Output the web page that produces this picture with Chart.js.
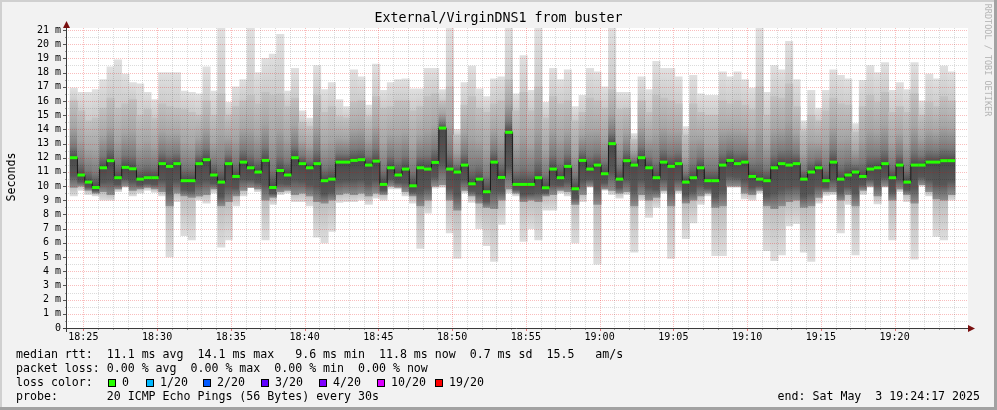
<!DOCTYPE html>
<html>
<head>
<meta charset="utf-8">
<title>External/VirginDNS1 from buster</title>
<script src="https://cdn.jsdelivr.net/npm/chart.js@4.4.1/dist/chart.umd.min.js"></script>
<style>
  html, body { margin: 0; padding: 0; background: #f2f2f2; }
  #wrap { position: relative; width: 997px; height: 410px; overflow: hidden; background: #f2f2f2;
          font-family: 'DejaVu Sans Mono', monospace; color: #000; }
  #wrap canvas { position: absolute; left: 0; top: 0; }
  .t { position: absolute; white-space: pre; font-size: 11.6px; line-height: 14px; }
  .box { position: absolute; width: 8px; height: 8px; box-sizing: border-box; border: 1px solid #000; }
  .edge { position: absolute; }
</style>
</head>
<body>
<div id="wrap">
  <canvas id="smoke" width="997" height="410"></canvas>
  <div class="t" style="left:0;top:10px;width:997px;text-align:center;font-size:13.3px;line-height:16px">External/VirginDNS1 from buster</div>
  <div class="t" style="left:-39px;top:170px;width:100px;text-align:center;transform:rotate(-90deg)">Seconds</div>
  <div class="t" style="left:927px;top:55px;width:122px;text-align:center;font-size:8.5px;line-height:10px;color:#b4b4b4;transform:rotate(90deg);transform-origin:61px 5px">RRDTOOL / TOBI OETIKER</div>
  <div class="t" id="stats" style="left:16px;top:347px"></div>
  <div id="lossRow"></div>
  <div class="t" id="endText" style="right:17px;top:389px"></div>
  <div class="edge" style="left:0;top:0;width:997px;height:2px;background:#d0d0d0"></div>
  <div class="edge" style="left:0;top:0;width:2px;height:410px;background:#d0d0d0"></div>
  <div class="edge" style="right:0;top:0;width:3px;height:410px;background:#a2a2a2"></div>
  <div class="edge" style="left:0;bottom:0;width:997px;height:3px;background:#a2a2a2"></div>
</div>
<script>
// one probe round (20 pings) every 30 s, times in minutes after 18:00
const firstSample = 24 + 21 / 60;
const sampleStep = 0.5;

const timeLabels = ['18:25', '18:30', '18:35', '18:40', '18:45', '18:50',
                    '18:55', '19:00', '19:05', '19:10', '19:15', '19:20'];

// median rtt per round (ms)
const medRtt = [
  12.0, 10.78, 10.28, 9.9, 11.29, 11.79, 10.59, 11.32, 11.22, 10.49,
  10.59, 10.59, 11.58, 11.39, 11.58, 10.38, 10.38, 11.58, 11.86, 10.78,
  10.28, 11.58, 10.68, 11.69, 11.29, 10.99, 11.81, 9.9, 11.1, 10.78,
  12.0, 11.58, 11.29, 11.58, 10.38, 10.49, 11.69, 11.69, 11.81, 11.86,
  11.48, 11.76, 10.12, 11.29, 10.78, 11.2, 10.02, 11.29, 11.2, 11.67,
  14.09, 11.2, 10.99, 11.48, 10.16, 10.49, 9.6, 11.69, 10.61, 13.79,
  10.12, 10.12, 10.12, 10.59, 9.88, 11.2, 10.59, 11.39, 9.81, 11.81,
  11.2, 11.48, 10.87, 12.99, 10.49, 11.79, 11.48, 12.0, 11.29, 10.59,
  11.69, 11.39, 11.58, 10.28, 10.59, 11.29, 10.38, 10.38, 11.48, 11.81,
  11.58, 11.69, 10.68, 10.49, 10.38, 11.29, 11.58, 11.48, 11.58, 10.49,
  10.99, 11.29, 10.38, 11.69, 10.49, 10.78, 10.99, 10.68, 11.2, 11.29,
  11.58, 10.59, 11.48, 10.28, 11.48, 11.48, 11.69, 11.69, 11.79, 11.79
];

// slowest ping of each round
const maxRtt = [
  16.9, 16.6, 16.6, 16.8, 17.5, 18.4, 18.9, 17.9, 17.3, 17.2,
  16.6, 16.1, 18.0, 18.0, 18.0, 16.7, 16.6, 16.5, 18.4, 16.7,
  21.2, 15.9, 17.0, 17.5, 21.2, 18.0, 19.0, 19.3, 20.7, 16.7,
  18.3, 15.3, 14.8, 18.5, 16.8, 17.3, 16.1, 15.6, 18.2, 17.7,
  15.7, 18.6, 16.75, 17.3, 17.5, 17.55, 16.85, 16.85, 18.3, 18.3,
  16.8, 21.2, 14.0, 17.3, 18.45, 16.85, 16.3, 17.55, 17.7, 21.2,
  16.5, 19.2, 16.75, 21.2, 15.9, 18.3, 17.5, 18.2, 15.6, 16.4,
  18.3, 18.05, 17.0, 21.2, 16.6, 16.6, 13.7, 17.7, 16.8, 18.8,
  18.3, 18.3, 17.7, 14.2, 17.8, 16.5, 16.4, 16.4, 18.05, 17.7,
  18.05, 17.5, 16.9, 21.2, 16.6, 18.5, 18.2, 20.2, 17.5, 14.6,
  16.75, 15.5, 16.75, 18.2, 17.8, 17.55, 14.4, 17.45, 18.5, 18.0,
  18.7, 16.75, 17.3, 16.8, 18.7, 16.0, 17.9, 17.55, 18.45, 18.05
];

// fastest ping of each round
const minRtt = [
  9.3, 9.7, 9.4, 9.3, 9.0, 9.0, 9.6, 9.9, 9.3, 9.5,
  9.7, 9.55, 9.3, 5.0, 8.9, 6.5, 6.2, 9.0, 8.8, 9.5,
  5.7, 6.2, 8.6, 9.3, 9.9, 9.6, 6.2, 8.7, 9.4, 9.5,
  8.9, 8.9, 8.6, 6.4, 6.0, 6.8, 8.85, 8.9, 8.9, 9.0,
  8.7, 9.15, 9.0, 9.8, 9.8, 9.3, 8.8, 5.6, 8.1, 9.86,
  9.9, 6.7, 4.9, 9.5, 8.85, 7.0, 5.8, 4.7, 7.3, 9.5,
  9.3, 6.1, 7.0, 6.2, 8.3, 8.3, 9.5, 9.3, 6.0, 8.9,
  9.9, 4.5, 9.7, 9.4, 9.15, 9.4, 5.35, 9.0, 7.8, 8.5,
  9.5, 4.9, 9.5, 6.3, 7.4, 8.7, 9.3, 5.1, 5.1, 9.9,
  9.9, 9.1, 9.0, 9.5, 5.45, 4.75, 5.15, 7.2, 7.35, 5.35,
  4.7, 8.8, 9.35, 9.4, 6.7, 8.7, 5.15, 9.4, 9.9, 8.75,
  9.9, 6.2, 9.6, 8.9, 4.85, 10.0, 9.3, 6.45, 6.2, 9.0
];

// top and bottom of the dense part of the smoke
const hiRtt = [
  16.0, 15.3, 14.6, 14.8, 15.5, 16.2, 15.5, 15.8, 16.1, 15.0,
  15.4, 14.8, 15.8, 15.6, 15.5, 15.4, 15.2, 15.0, 16.0, 15.0,
  16.5, 15.0, 15.6, 16.0, 16.4, 15.8, 16.6, 16.4, 16.5, 15.6,
  16.2, 14.5, 14.2, 16.4, 15.2, 15.6, 14.9, 14.8, 15.9, 16.0,
  14.9, 16.3, 15.5, 15.6, 16.0, 16.0, 15.3, 15.6, 16.3, 16.5,
  16.0, 17.0, 13.6, 15.7, 16.3, 15.5, 15.2, 15.8, 16.0, 17.5,
  15.3, 16.6, 15.3, 17.0, 14.8, 16.3, 15.8, 16.0, 14.6, 15.2,
  16.2, 16.0, 15.5, 16.8, 15.4, 15.5, 13.3, 16.0, 15.2, 16.4,
  16.2, 16.0, 15.8, 13.6, 15.8, 15.2, 15.0, 15.0, 16.0, 15.8,
  16.0, 15.7, 15.4, 17.0, 15.0, 16.3, 16.2, 17.2, 15.6, 13.9,
  15.0, 14.6, 15.3, 16.2, 15.8, 15.7, 13.8, 15.6, 16.4, 15.9,
  16.6, 15.2, 15.6, 15.2, 16.5, 15.0, 15.9, 15.6, 16.3, 16.0
];
const loRtt = [
  9.9, 10.0, 9.7, 9.5, 9.6, 9.4, 9.8, 10.0, 9.7, 9.8,
  9.9, 9.8, 9.6, 8.6, 9.5, 9.3, 9.2, 9.3, 9.4, 9.8,
  8.6, 8.9, 9.3, 9.7, 9.9, 9.8, 9.0, 9.2, 9.6, 9.7,
  9.4, 9.5, 9.3, 8.9, 8.8, 9.0, 9.4, 9.5, 9.4, 9.5,
  9.3, 9.5, 9.4, 10.0, 9.9, 9.6, 9.3, 8.6, 9.0, 10.0,
  10.1, 9.0, 8.3, 9.7, 9.3, 8.8, 8.5, 8.4, 9.0, 9.8,
  9.5, 8.9, 9.0, 8.9, 9.3, 9.4, 9.7, 9.6, 8.7, 9.4,
  10.0, 8.7, 9.8, 9.7, 9.5, 9.6, 8.6, 9.4, 9.0, 9.2,
  9.7, 8.6, 9.7, 8.8, 9.0, 9.3, 9.5, 8.5, 8.6, 10.0,
  10.0, 9.5, 9.4, 9.7, 8.6, 8.4, 8.6, 8.9, 9.0, 8.5,
  8.6, 9.2, 9.6, 9.6, 9.0, 9.4, 8.6, 9.7, 10.0, 9.3,
  10.0, 9.0, 9.8, 9.4, 8.8, 10.1, 9.6, 9.1, 9.0, 9.4
];

const lossLabels = ['0', '1/20', '2/20', '3/20', '4/20', '10/20', '19/20'];
const lossColors = ['#26ff00', '#00b8ff', '#0059ff', '#5e00ff', '#7e00ff', '#dd00ff', '#ff0000'];

const statLines = [
  'median rtt:  11.1 ms avg  14.1 ms max   9.6 ms min  11.8 ms now  0.7 ms sd  15.5   am/s',
  'packet loss: 0.00 % avg  0.00 % max  0.00 % min  0.00 % now',
  'loss color:',
  'probe:       20 ICMP Echo Pings (56 Bytes) every 30s'
];
const endStamp = 'end: Sat May  3 19:24:17 2025';

// legend text
document.getElementById('stats').textContent = statLines.join('\n');
document.getElementById('endText').textContent = endStamp;
const lossRow = document.getElementById('lossRow');
const boxLeft = [108, 146, 203, 261, 319, 377, 435];
lossLabels.forEach((lbl, i) => {
  const b = document.createElement('div');
  b.className = 'box';
  b.style.left = boxLeft[i] + 'px';
  b.style.top = '379px';
  b.style.background = lossColors[i];
  lossRow.appendChild(b);
  const t = document.createElement('div');
  t.className = 't';
  t.style.left = (boxLeft[i] + 14) + 'px';
  t.style.top = '375px';
  t.textContent = lbl;
  lossRow.appendChild(t);
});

const toMin = s => { const [h, m] = s.split(':').map(Number); return (h - 18) * 60 + m; };
const sampleX = medRtt.map((_, i) => firstSample + i * sampleStep);
const points = arr => arr.map((v, i) => ({ x: sampleX[i], y: v }));
const band = (a, b) => a.map((v, i) => ({ x: sampleX[i], y: [v, b[i]] }));

const minuteTicks = [];
for (let m = 25; m <= 84; m++) minuteTicks.push(m);
const halfTicks = [];
for (let v = 0; v <= 21; v += 0.5) halfTicks.push(v);

function yPixels(ctx, values) {
  const y = ctx.chart.scales && ctx.chart.scales.y;
  if (ctx.dataIndex === undefined || !y) return null;
  const px = values.map(v => y.getPixelForValue(v));
  return px.every(Number.isFinite) ? px : null;
}

function outerFill(ctx) {
  const i = ctx.dataIndex;
  const px = yPixels(ctx, i === undefined ? [] : [maxRtt[i], minRtt[i], hiRtt[i], loRtt[i]]);
  if (!px) return '#d8d8d8';
  const [top, bot, hi, lo] = px;
  const h = Math.max(bot - top, 1);
  const tHi = Math.min(Math.max((hi - top) / h, 0), 1);
  const tLo = Math.min(Math.max((lo - top) / h, tHi), 1);
  const g = ctx.chart.ctx.createLinearGradient(0, top, 0, top + h);
  g.addColorStop(0, '#e0e0e0');
  g.addColorStop(tHi, '#cbcbcb');
  g.addColorStop(tLo, '#bebebe');
  g.addColorStop(1, '#dddddd');
  return g;
}

function coreFill(ctx) {
  const i = ctx.dataIndex;
  const px = yPixels(ctx, i === undefined ? [] : [hiRtt[i], loRtt[i], medRtt[i]]);
  if (!px) return '#8a8a8a';
  const [top, bot, mid] = px;
  const h = Math.max(bot - top, 1);
  let t = (mid - top) / h;
  t = Math.min(0.92, Math.max(0.08, t));
  const g = ctx.chart.ctx.createLinearGradient(0, top, 0, top + h);
  g.addColorStop(0, '#c2c2c2');
  g.addColorStop(t * 0.45, '#a6a6a6');
  g.addColorStop(t * 0.8, '#7a7a7a');
  g.addColorStop(t, '#4a4a4a');
  g.addColorStop(t + (1 - t) * 0.6, '#575757');
  g.addColorStop(1, '#8e8e8e');
  return g;
}

const plotBackground = {
  id: 'plotBackground',
  beforeDraw(chart) {
    const { ctx, chartArea: a } = chart;
    ctx.save();
    ctx.fillStyle = '#ffffff';
    ctx.fillRect(a.left, a.top, a.right - a.left, a.bottom - a.top);
    ctx.restore();
  }
};

// dotted rrdtool grid, drawn over the smoke but under the median line
const majorGrid = 'rgba(230,0,0,0.26)';
const minorGrid = 'rgba(0,0,0,0.14)';
const rrdGrid = {
  id: 'rrdGrid',
  afterDatasetDraw(chart, args) {
    if (args.index !== 2) return;
    const { ctx, chartArea: a, scales: { x, y } } = chart;
    ctx.save();
    ctx.lineWidth = 1;
    ctx.setLineDash([1, 1]);
    halfTicks.forEach(v => {
      if (v === 0) return;
      const p = Math.round(y.getPixelForValue(v)) + 0.5;
      ctx.strokeStyle = Number.isInteger(v) ? majorGrid : minorGrid;
      ctx.beginPath();
      ctx.moveTo(a.left + 1, p);
      ctx.lineTo(a.right, p);
      ctx.stroke();
    });
    minuteTicks.forEach(m => {
      const p = Math.round(x.getPixelForValue(m)) + 0.5;
      ctx.strokeStyle = m % 5 === 0 ? majorGrid : minorGrid;
      ctx.beginPath();
      ctx.moveTo(p, a.top);
      ctx.lineTo(p, a.bottom);
      ctx.stroke();
    });
    ctx.restore();
  }
};

const rrdAxes = {
  id: 'rrdAxes',
  afterDraw(chart) {
    const { ctx, chartArea: a, scales: { x, y } } = chart;
    const x0 = a.left - 0.5, y0 = a.bottom + 0.5;
    ctx.save();
    ctx.lineWidth = 1;
    halfTicks.forEach(v => {
      const p = Math.round(y.getPixelForValue(v)) + 0.5;
      ctx.strokeStyle = Number.isInteger(v) ? '#555555' : '#999999';
      ctx.beginPath();
      ctx.moveTo(a.left - (Number.isInteger(v) ? 4 : 2), p);
      ctx.lineTo(a.left, p);
      ctx.stroke();
    });
    minuteTicks.forEach(m => {
      const p = Math.round(x.getPixelForValue(m)) + 0.5;
      ctx.strokeStyle = m % 5 === 0 ? '#e07070' : '#999999';
      ctx.beginPath();
      ctx.moveTo(p, a.bottom);
      ctx.lineTo(p, a.bottom + (m % 5 === 0 ? 3 : 2));
      ctx.stroke();
    });
    ctx.strokeStyle = '#3a3a3a';
    ctx.beginPath();
    ctx.moveTo(x0, a.top - 6);
    ctx.lineTo(x0, a.bottom + 4);
    ctx.moveTo(a.left - 4, y0);
    ctx.lineTo(a.right + 2, y0);
    ctx.stroke();
    ctx.fillStyle = '#7a1010';
    ctx.beginPath();
    ctx.moveTo(x0 - 3.5, a.top);
    ctx.lineTo(x0 + 3.5, a.top);
    ctx.lineTo(x0, a.top - 7);
    ctx.closePath();
    ctx.fill();
    ctx.beginPath();
    ctx.moveTo(a.right, y0 - 3.5);
    ctx.lineTo(a.right, y0 + 3.5);
    ctx.lineTo(a.right + 7, y0);
    ctx.closePath();
    ctx.fill();
    ctx.restore();
  }
};

const monoTicks = { family: 'DejaVu Sans Mono', size: 10 };

new Chart(document.getElementById('smoke').getContext('2d'), {
  type: 'bar',
  data: {
    datasets: [
      {
        type: 'line',
        label: 'median',
        data: points(medRtt),
        showLine: false,
        pointStyle: 'line',
        pointRadius: 3.75,
        pointBorderWidth: 3,
        pointBorderColor: lossColors[0],
        pointBackgroundColor: lossColors[0],
        order: 0,
        clip: 0
      },
      {
        type: 'line',
        label: 'median step',
        data: points(medRtt),
        stepped: 'middle',
        borderColor: '#1a1a1a',
        borderWidth: 1,
        pointRadius: 0,
        order: 1,
        clip: 0
      },
      {
        label: 'smoke core',
        data: band(loRtt, hiRtt),
        backgroundColor: coreFill,
        grouped: false,
        barPercentage: 1,
        categoryPercentage: 1,
        borderWidth: 0,
        order: 2,
        clip: 0
      },
      {
        label: 'smoke',
        data: band(minRtt, maxRtt),
        backgroundColor: outerFill,
        grouped: false,
        barPercentage: 1,
        categoryPercentage: 1,
        borderWidth: 0,
        order: 3,
        clip: 0
      }
    ]
  },
  options: {
    responsive: false,
    animation: false,
    devicePixelRatio: 1,
    events: [],
    layout: { padding: { left: 0, top: 28, right: 29, bottom: 62 } },
    plugins: { legend: { display: false }, tooltip: { enabled: false } },
    scales: {
      x: {
        type: 'linear',
        min: 24.4,
        max: 84.4667,
        afterBuildTicks: s => { s.ticks = minuteTicks.map(v => ({ value: v })); },
        afterFit: s => { s.height = 20; },
        grid: { display: false, drawTicks: false },
        border: { display: false },
        ticks: {
          autoSkip: false,
          maxRotation: 0,
          padding: 3,
          color: '#000',
          font: monoTicks,
          callback: v => timeLabels.find(s => toMin(s) === Math.round(v)) || ''
        }
      },
      y: {
        min: 0,
        max: 21.14,
        afterBuildTicks: s => { s.ticks = halfTicks.map(v => ({ value: v })); },
        afterFit: s => { s.width = 67; },
        grid: { display: false, drawTicks: false },
        border: { display: false },
        ticks: {
          autoSkip: false,
          padding: 6,
          color: '#000',
          font: monoTicks,
          callback: v => Number.isInteger(v) ? (v === 0 ? '0' : v + ' m') : ''
        }
      }
    }
  },
  plugins: [plotBackground, rrdGrid, rrdAxes]
});
</script>
</body>
</html>
